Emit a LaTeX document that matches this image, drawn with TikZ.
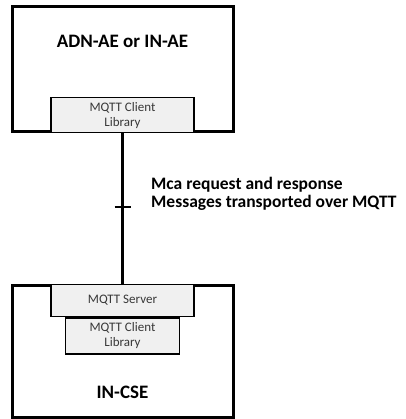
\documentclass[tikz,border=0pt]{standalone}
\usepackage{fontspec}
\setmainfont{Carlito}
\usepackage{xcolor}
\usepackage{tikz}
\usetikzlibrary{positioning, calc}

\definecolor{libfill}{HTML}{F0F0F0}
\definecolor{libtext}{HTML}{383838}

\begin{document}
\begin{tikzpicture}[
    x=1pt, y=-1pt,
    entity/.style={draw, line width=3pt, minimum width=221pt, inner sep=0pt},
    lib/.style={draw, line width=1.5pt, fill=libfill, minimum width=143pt, inner sep=0pt, align=center, text=libtext, font=\fontsize{13}{15}\selectfont},
    title/.style={font=\fontsize{19}{22}\selectfont\bfseries},
    link/.style={line width=3pt},
    note/.style={font=\fontsize{17.5}{18}\selectfont\bfseries, align=left, anchor=west, inner sep=0pt},
]
\useasboundingbox (0,0) rectangle (405,419);

% Application entity
\node[entity, minimum height=125pt] (ae) at (122.5,69.5) {};
\node[title] (aetitle) at ($(ae.north)+(0,36)$) {ADN-AE or IN-AE};
\node[lib, minimum height=35pt, anchor=south] (aeclient) at (ae.south) {MQTT Client\\Library};

% Common services entity
\node[entity, minimum height=132pt] (cse) at (122.5,351) {};
\node[lib, minimum height=32pt, anchor=north] (server) at (cse.north) {MQTT Server};
\node[lib, minimum width=114pt, minimum height=36pt, below=0pt of server] (cseclient) {MQTT Client\\Library};
\node[title] (csetitle) at ($(cse.south)+(0,-26)$) {IN-CSE};

% Mca reference point
\draw[link] (aeclient.south) -- coordinate (mid) (server.north);
\draw[line width=2pt] ($(mid)+(-8,-1)$) -- ($(mid)+(8,-1)$);
\node[note] (msg) at (151,194) {Mca request and response\\Messages transported over MQTT};

\end{tikzpicture}
\end{document}
